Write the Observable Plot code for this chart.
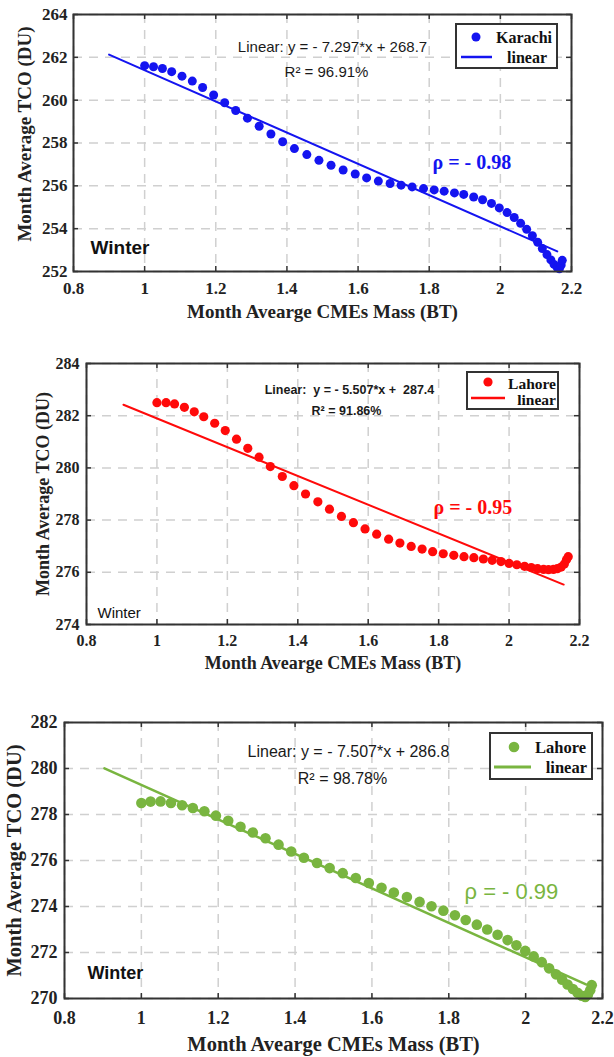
<!DOCTYPE html>
<html>
<head>
<meta charset="utf-8">
<script src="https://cdn.jsdelivr.net/npm/d3@7"></script>
<script src="https://cdn.jsdelivr.net/npm/@observablehq/plot@0.6"></script>
<style>
  html, body { margin: 0; padding: 0; background: white; }
  #chart svg { display: block; }
</style>
</head>
<body>
<div id="chart"></div>
<script>
// ---- Data ----
const xTicks = [0.8, 1, 1.2, 1.4, 1.6, 1.8, 2, 2.2];

// Panel 1: Karachi
const karachiX = [1.0,1.025,1.05,1.076,1.105,1.134,1.163,1.194,1.225,1.256,1.289,1.322,1.355,1.388,1.421,1.456,1.49,1.524,1.558,1.592,1.624,1.657,1.69,1.721,1.752,1.784,1.814,1.842,1.871,1.897,1.925,1.95,1.975,1.997,2.019,2.039,2.057,2.074,2.09,2.105,2.118,2.131,2.142,2.151,2.16,2.166,2.171,2.174];
const karachiY = [261.61,261.56,261.48,261.33,261.12,260.89,260.59,260.24,259.88,259.52,259.16,258.78,258.42,258.06,257.74,257.46,257.19,256.96,256.74,256.55,256.37,256.22,256.11,256.03,255.95,255.87,255.81,255.75,255.67,255.6,255.48,255.35,255.18,254.97,254.75,254.52,254.25,253.97,253.67,253.36,253.07,252.79,252.54,252.33,252.18,252.13,252.3,252.52];
const karachiFitX = [0.9, 2.16];
const karachiFitY = [262.13, 252.94];
const karachiYTicks = [252, 254, 256, 258, 260, 262, 264];

// Panel 2: Lahore (red)
const lahoreRX = [1.0,1.026,1.05,1.078,1.106,1.133,1.164,1.194,1.226,1.258,1.29,1.322,1.356,1.389,1.422,1.457,1.49,1.524,1.558,1.591,1.624,1.658,1.69,1.722,1.753,1.783,1.813,1.843,1.872,1.9,1.927,1.952,1.977,2.0,2.022,2.044,2.063,2.081,2.098,2.112,2.126,2.137,2.148,2.157,2.163,2.168];
const lahoreRY = [282.5,282.5,282.45,282.32,282.15,281.96,281.71,281.43,281.1,280.75,280.41,280.05,279.67,279.32,279.0,278.7,278.42,278.14,277.9,277.66,277.46,277.27,277.12,276.99,276.89,276.79,276.71,276.65,276.6,276.56,276.51,276.46,276.41,276.34,276.29,276.23,276.18,276.14,276.11,276.1,276.11,276.14,276.2,276.32,276.48,276.6];
const lahoreRFitX = [0.905, 2.155];
const lahoreRFitY = [282.42, 275.53];
const lahoreRYTicks = [274, 276, 278, 280, 282, 284];

// Panel 3: Lahore (green)
const lahoreGX = [1.0,1.024,1.05,1.077,1.106,1.134,1.164,1.194,1.226,1.258,1.29,1.323,1.357,1.39,1.423,1.457,1.49,1.524,1.558,1.592,1.625,1.657,1.691,1.724,1.755,1.786,1.816,1.844,1.873,1.9,1.927,1.953,1.976,1.999,2.021,2.042,2.061,2.079,2.095,2.109,2.123,2.135,2.146,2.155,2.162,2.168,2.172];
const lahoreGY = [278.5,278.56,278.57,278.5,278.4,278.28,278.14,277.95,277.73,277.47,277.22,276.97,276.69,276.39,276.12,275.89,275.67,275.45,275.24,275.02,274.81,274.61,274.41,274.2,274.01,273.82,273.62,273.41,273.21,273.0,272.77,272.54,272.31,272.07,271.83,271.58,271.31,271.05,270.82,270.61,270.41,270.25,270.12,270.07,270.17,270.36,270.58];
const lahoreGFitX = [0.904, 2.157];
const lahoreGFitY = [280.01, 270.61];
const lahoreGYTicks = [270, 272, 274, 276, 278, 280, 282];

const xTitle = "Month Avearge CMEs Mass (BT)";
const yTitle = "Month Average TCO (DU)";

// ---- Panel configs (layout/style) ----
const panels = [
  {
    x: karachiX, y: karachiY, fitX: karachiFitX, fitY: karachiFitY, yTicks: karachiYTicks,
    color: "#1414f0", r: 4.5, lw: 2,
    height: 330, mt: 14, mb: 59, ml: 73, mr: 43,
    tickFs: 17, xPad: 10.5, yPad: 6,
    titleFs: 19, xTitleDy: 46, yTitleDx: -49, yTitleDy: -9,
    eq: "Linear: y = - 7.297*x + 268.7", r2: "R² = 96.91%", eqFs: 15, eqWeight: "normal",
    eqDx: 259, eqDy: 37, r2Dx: 253, r2Dy: 62,
    rho: "ρ = - 0.98", rhoFont: "'Liberation Serif', serif", rhoWeight: "bold", rhoFs: 20, rhoDx: 359, rhoDy: 154,
    winterFs: 19, winterWeight: "bold", winterDx: 17, winterDy: 239,
    legend: { label: "Karachi", x: 456, y: 24, w: 101, h: 44, dotX: 476, dotY: 37, dotR: 4.5,
              t1X: 552, t1Y: 43, lineX1: 461, lineX2: 492, lineY: 57, t2X: 547, t2Y: 63, fs: 16 }
  },
  {
    x: lahoreRX, y: lahoreRY, fitX: lahoreRFitX, fitY: lahoreRFitY, yTicks: lahoreRYTicks,
    color: "#ff0a0a", r: 4.6, lw: 2,
    height: 360, mt: 33, mb: 66, ml: 86, mr: 35,
    tickFs: 16, xPad: 10.5, yPad: 7,
    titleFs: 18, xTitleDy: 44, yTitleDx: -43, yTitleDy: 0,
    eq: "Linear:  y = - 5.507*x +  287.4", r2: "R² = 91.86%", eqFs: 12.5, eqWeight: "bold",
    eqDx: 263, eqDy: 30, r2Dx: 260, r2Dy: 51,
    rho: "ρ = - 0.95", rhoFont: "'Liberation Serif', serif", rhoWeight: "bold", rhoFs: 20, rhoDx: 347, rhoDy: 150,
    winterFs: 15, winterWeight: "normal", winterDx: 11, winterDy: 254,
    legend: { label: "Lahore", x: 467, y: 42, w: 91, h: 37, dotX: 488, dotY: 52, dotR: 4.6,
              t1X: 556, t1Y: 59, lineX1: 471, lineX2: 505, lineY: 68, t2X: 556, t2Y: 75, fs: 15.5 }
  },
  {
    x: lahoreGX, y: lahoreGY, fitX: lahoreGFitX, fitY: lahoreGFitY, yTicks: lahoreGYTicks,
    color: "#79b540", r: 5.3, lw: 2.5,
    height: 367, mt: 32, mb: 59, ml: 64, mr: 12,
    tickFs: 18, xPad: 13, yPad: 7,
    titleFs: 20.5, xTitleDy: 52, yTitleDx: -50, yTitleDy: 0,
    eq: "Linear: y = - 7.507*x + 286.8", r2: "R² = 98.78%", eqFs: 16, eqWeight: "normal",
    eqDx: 284, eqDy: 34, r2Dx: 278, r2Dy: 61,
    rho: "ρ = - 0.99", rhoFont: "'Liberation Sans', Arial, sans-serif", rhoWeight: "normal", rhoFs: 22, rhoDx: 400, rhoDy: 176,
    winterFs: 18, winterWeight: "bold", winterDx: 23, winterDy: 256,
    legend: { label: "Lahore", x: 490, y: 43, w: 102, h: 46, dotX: 514, dotY: 57, dotR: 5.3,
              t1X: 586, t1Y: 63, lineX1: 494, lineX2: 531, lineY: 77, t2X: 587, t2Y: 83, fs: 16.5 }
  }
];

const serif = "'Liberation Serif', 'Times New Roman', serif";
const sans = "'Liberation Sans', Arial, sans-serif";
const fmtX = d => String(Math.round(d * 10) / 10);

function makePanel(c) {
  const data = c.x.map((x, i) => ({x, y: c.y[i]}));
  const fit = c.fitX.map((x, i) => ({x, y: c.fitY[i]}));
  const ih = c.height - c.mt - c.mb;
  const iw = 614 - c.ml - c.mr;
  const yDomain = [c.yTicks[0], c.yTicks[c.yTicks.length - 1]];
  const gridStyle = {stroke: "#d0d0d0", strokeOpacity: 1, strokeWidth: 1.5, strokeDasharray: "9,7"};
  const tickStyle = {stroke: "#333", strokeWidth: 1.5};
  const svg = Plot.plot({
    width: 614, height: c.height,
    marginTop: c.mt, marginBottom: c.mb, marginLeft: c.ml, marginRight: c.mr,
    style: {fontFamily: serif, fontWeight: "bold", fontSize: c.tickFs + "px", color: "#222", background: "white", overflow: "visible"},
    x: {domain: [0.8, 2.2], label: null},
    y: {domain: yDomain, label: null},
    marks: [
      Plot.gridX(xTicks, gridStyle),
      Plot.gridY(c.yTicks, gridStyle),
      Plot.tickX(xTicks, {x: d => d, insetTop: ih - 5, ...tickStyle}),
      Plot.tickX(xTicks, {x: d => d, insetBottom: ih - 5, ...tickStyle}),
      Plot.tickY(c.yTicks, {y: d => d, insetRight: iw - 5, ...tickStyle}),
      Plot.tickY(c.yTicks, {y: d => d, insetLeft: iw - 5, ...tickStyle}),
      Plot.dot(data, {x: "x", y: "y", r: c.r, fill: c.color, stroke: "none"}),
      Plot.line(fit, {x: "x", y: "y", stroke: c.color, strokeWidth: c.lw}),
      Plot.frame({stroke: "#333", strokeWidth: 2}),
      Plot.axisX(xTicks, {tickSize: 0, tickPadding: c.xPad, tickFormat: fmtX, label: null, fontSize: c.tickFs, fill: "#222"}),
      Plot.axisY(c.yTicks, {tickSize: 0, tickPadding: c.yPad, label: null, fontSize: c.tickFs, fill: "#222"}),
      Plot.text([xTitle], {frameAnchor: "bottom", dy: c.xTitleDy, textAnchor: "middle", lineAnchor: "bottom",
        fontFamily: serif, fontWeight: "bold", fontSize: c.titleFs, fill: "#222"}),
      Plot.text([yTitle], {frameAnchor: "left", dx: c.yTitleDx, dy: c.yTitleDy, rotate: -90, textAnchor: "middle", lineAnchor: "middle",
        fontFamily: serif, fontWeight: "bold", fontSize: c.titleFs, fill: "#222"}),
      Plot.text([c.eq], {frameAnchor: "top-left", dx: c.eqDx, dy: c.eqDy, textAnchor: "middle", lineAnchor: "bottom",
        fontFamily: sans, fontWeight: c.eqWeight, fontSize: c.eqFs, fill: "#1a1a1a"}),
      Plot.text([c.r2], {frameAnchor: "top-left", dx: c.r2Dx, dy: c.r2Dy, textAnchor: "middle", lineAnchor: "bottom",
        fontFamily: sans, fontWeight: c.eqWeight, fontSize: c.eqFs, fill: "#1a1a1a"}),
      Plot.text([c.rho], {frameAnchor: "top-left", dx: c.rhoDx, dy: c.rhoDy, textAnchor: "start", lineAnchor: "bottom",
        fontFamily: c.rhoFont, fontWeight: c.rhoWeight, fontSize: c.rhoFs, fill: c.color}),
      Plot.text(["Winter"], {frameAnchor: "top-left", dx: c.winterDx, dy: c.winterDy, textAnchor: "start", lineAnchor: "bottom",
        fontFamily: sans, fontWeight: c.winterWeight, fontSize: c.winterFs, fill: "#111"})
    ]
  });
  // Legend box
  const L = c.legend;
  const g = d3.select(svg).append("g");
  g.append("rect").attr("x", L.x).attr("y", L.y).attr("width", L.w).attr("height", L.h)
    .attr("fill", "white").attr("stroke", "#333").attr("stroke-width", 2);
  g.append("circle").attr("cx", L.dotX).attr("cy", L.dotY).attr("r", L.dotR).attr("fill", c.color);
  g.append("text").attr("x", L.t1X).attr("y", L.t1Y).attr("text-anchor", "end")
    .attr("font-family", serif).attr("font-weight", "bold").attr("font-size", L.fs).attr("fill", "#111").text(L.label);
  g.append("line").attr("x1", L.lineX1).attr("x2", L.lineX2).attr("y1", L.lineY).attr("y2", L.lineY)
    .attr("stroke", c.color).attr("stroke-width", c.lw + 0.5);
  g.append("text").attr("x", L.t2X).attr("y", L.t2Y).attr("text-anchor", "end")
    .attr("font-family", serif).attr("font-weight", "bold").attr("font-size", L.fs).attr("fill", "#111").text("linear");
  return svg;
}

const root = document.getElementById("chart");
panels.forEach(c => root.appendChild(makePanel(c)));
</script>
</body>
</html>
